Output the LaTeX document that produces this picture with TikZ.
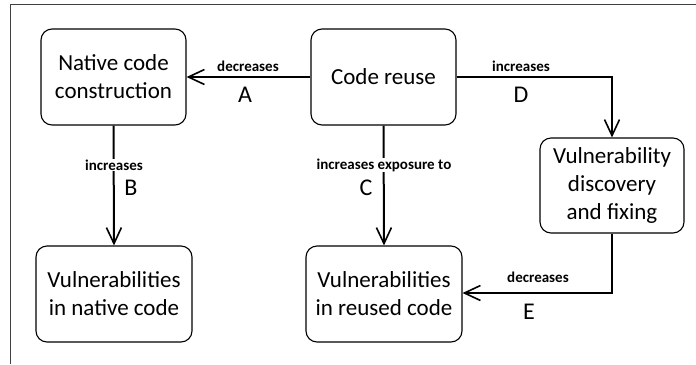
\documentclass[tikz,border=0pt]{standalone}
\usepackage{fontspec}
\setmainfont{Carlito}
\usetikzlibrary{arrows.meta}
\begin{document}
\begin{tikzpicture}[x=1bp,y=-1bp,
  box/.style={draw=black,line width=1.1bp,rounded corners=11bp,align=center,
    font=\fontsize{23bp}{28bp}\selectfont,inner sep=0pt},
  conn/.style={line width=2bp,-{Straight Barb[length=16bp,width=15bp,line width=1.6bp]}},
  lbl/.style={font=\fontsize{15bp}{17bp}\selectfont\bfseries,inner sep=1bp},
  letter/.style={font=\fontsize{24bp}{26bp}\selectfont,inner sep=0pt}]
\useasboundingbox (0,0) rectangle (696,364);
% frame (only top and left edges visible)
\coordinate (ftl) at (10.5,4.5);
\coordinate (ftr) at (696,4.5);
\coordinate (fbl) at (10.5,364);
\draw[line width=1.4bp,black!75] (ftr) -- (ftl) -- (fbl);
% boxes
\node[box,minimum width=145bp,minimum height=96bp] (ncc) at (113.5,77) {Native code\\construction};
\node[box,minimum width=145bp,minimum height=96bp] (cr) at (383.5,77) {Code reuse};
\node[box,minimum width=144bp,minimum height=95bp] (vdf) at (612,185.5) {Vulnerability\\discovery\\and fixing};
\node[box,minimum width=156bp,minimum height=96bp] (vnc) at (114,294) {Vulnerabilities\\in native code};
\node[box,minimum width=156bp,minimum height=96bp] (vrc) at (384,294) {Vulnerabilities\\in reused code};
% connectors
\draw[conn] (cr.west) -- (ncc.east);
\draw[conn] (ncc.south) -- (vnc.north);
\draw[conn] (cr.south) -- (vrc.north);
\coordinate (dcorner) at (612,77);
\draw[conn] (cr.east) -- (dcorner) -- (vdf.north);
\coordinate (ecorner) at (612,293);
\draw[conn] (vdf.south) -- (ecorner) -- (vrc.east |- ecorner);
% labels
\node[lbl] (la) at (248,66) {decreases};
\node[letter] (ta) at (245,95) {A};
\node[lbl,fill=white] (lb) at (114,165) {increases};
\node[letter] (tb) at (131,188) {B};
\node[lbl,fill=white] (lc) at (384,165) {increases exposure to};
\node[letter] (tc) at (366,188) {C};
\node[lbl] (ld) at (521,66) {increases};
\node[letter] (td) at (521,95) {D};
\node[lbl] (le) at (538,277) {decreases};
\node[letter] (te) at (529,312) {E};
\end{tikzpicture}
\end{document}
